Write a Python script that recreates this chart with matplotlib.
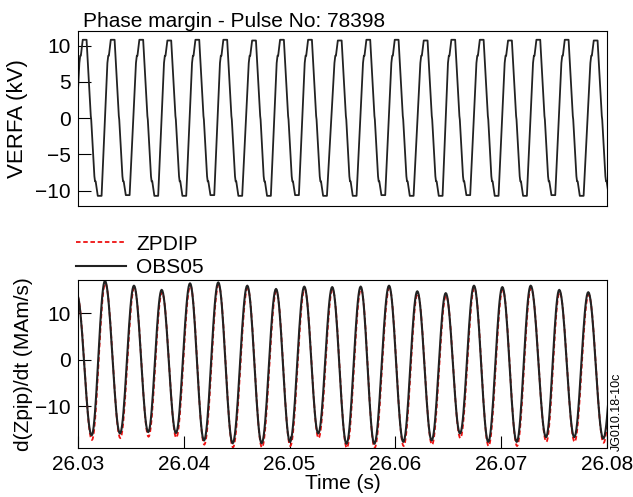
import numpy as np
import matplotlib
matplotlib.use("Agg")
import matplotlib.pyplot as plt

plt.rcParams['font.family'] = ['Liberation Sans', 'DejaVu Sans']

# top panel: VERFA (kV), peak / trough times and levels
verfa_peak_t = [26.03063, 26.03328, 26.03598, 26.03863, 26.04128, 26.04392, 26.04664,
                26.04928, 26.05193, 26.05474, 26.05744, 26.06012, 26.06286, 26.06547,
                26.06816, 26.07083, 26.07351, 26.07619, 26.07893]
verfa_peak_v = [10.8, 10.8, 10.8, 10.7, 10.8, 10.8, 10.7, 10.8, 10.8, 10.7,
                10.8, 10.8, 10.7, 10.8, 10.8, 10.7, 10.8, 10.8, 10.7]
verfa_trough_t = [26.02931, 26.03205, 26.03470, 26.03740, 26.04005, 26.04270, 26.04534,
                  26.04805, 26.05070, 26.05335, 26.05615, 26.05886, 26.06154, 26.06428,
                  26.06689, 26.06957, 26.07225, 26.07493, 26.07761, 26.08035]
verfa_trough_v = [-10.7, -10.7, -10.6, -10.7, -10.7, -10.6, -10.7, -10.7, -10.6, -10.7,
                  -10.7, -10.6, -10.7, -10.7, -10.6, -10.7, -10.7, -10.6, -10.7, -10.7]

# bottom panel: d(Zpip)/dt extrema (OBS05), ZPDIP runs a little deeper
obs_ext_t = [26.02990, 26.03129, 26.03255, 26.03397, 26.03529, 26.03664, 26.03791,
             26.03926, 26.04059, 26.04191, 26.04326, 26.04462, 26.04600, 26.04736,
             26.04872, 26.05004, 26.05139, 26.05271, 26.05403, 26.05538, 26.05672,
             26.05801, 26.05940, 26.06075, 26.06207, 26.06343, 26.06476, 26.06611,
             26.06743, 26.06878, 26.07011, 26.07147, 26.07279, 26.07424, 26.07549,
             26.07691, 26.07823, 26.07965, 26.08100]
obs_ext_v = [14.0, -16.2, 16.9, -15.8, 15.9, -15.5, 15.0, -15.7, 16.4, -17.3, 16.6,
             -17.9, 15.9, -17.9, 15.2, -17.6, 15.7, -15.8, 15.6, -18.0, 15.7, -18.0,
             15.9, -17.6, 14.7, -17.3, 14.3, -15.8, 15.9, -17.6, 15.6, -17.6, 15.9,
             -16.6, 15.0, -16.6, 14.5, -16.9, 12.0]
zpdip_ext_v = [13.6, -17.2, 16.4, -16.8, 15.4, -16.5, 14.5, -16.7, 15.9, -18.2, 16.1,
               -18.8, 15.4, -18.8, 14.7, -18.5, 15.2, -16.8, 15.1, -18.9, 15.2, -18.9,
               15.4, -18.5, 14.2, -18.2, 13.8, -16.8, 15.4, -18.5, 15.1, -18.5, 15.4,
               -17.6, 14.5, -17.6, 14.0, -17.8, 11.5]


def verfa_curve(pt, pv, tt, tv):
    # trapezoid-like wave with small kinks near the top and bottom of the edges
    w = 0.00018
    pts = []
    for i in range(len(tt)):
        pts += [(tt[i] - w, tv[i]), (tt[i] + w, tv[i])]
        if i < len(pt):
            pts += [(pt[i] - 0.00050, 7.6), (pt[i] - 0.00042, 8.6), (pt[i] - 0.00036, 8.6),
                    (pt[i] - w, pv[i]), (pt[i] + w, pv[i]),
                    (pt[i] + 0.00058, 0.3), (pt[i] + 0.00062, -0.2),
                    (tt[i + 1] - 0.00050, -8.0), (tt[i + 1] - 0.00044, -8.7),
                    (tt[i + 1] - 0.00038, -8.7)]
    pts.sort()
    return np.array([p[0] for p in pts]), np.array([p[1] for p in pts])


def smooth_through(t, v, shift=0.0):
    # half-cosine segments between consecutive extrema
    xs, ys = [], []
    for i in range(len(t) - 1):
        s = np.linspace(0, 1, 20, endpoint=False)
        xs.append(t[i] + shift + (t[i + 1] - t[i]) * s)
        ys.append(v[i] + (v[i + 1] - v[i]) * (1 - np.cos(np.pi * s)) / 2)
    return np.concatenate(xs), np.concatenate(ys)


fig = plt.figure(figsize=(6.33, 4.97), dpi=100)
ax1 = fig.add_axes([0.1232, 0.5855, 0.8357, 0.352])
ax2 = fig.add_axes([0.1232, 0.0986, 0.8357, 0.338])

x, y = verfa_curve(verfa_peak_t, verfa_peak_v, verfa_trough_t, verfa_trough_v)
ax1.plot(x, y, color='#222222', lw=1.3)
ax1.set_xlim(26.03, 26.08)
ax1.set_ylim(-12.1, 12.0)
ax1.set_yticks([10, 5, 0, -5, -10])
ax1.set_yticklabels(['10', '5', '0', '\u22125', '\u221210'])
ax1.set_xticks([])
ax1.tick_params(axis='y', direction='in', length=9, pad=5, labelsize=15)
ax1.set_ylabel('VERFA (kV)', fontsize=16, labelpad=5)
ax1.set_title('Phase margin - Pulse No: 78398', loc='left', fontsize=15, pad=3, x=0.01)

xz, yz = smooth_through(obs_ext_t, zpdip_ext_v, shift=0.00003)
xo, yo = smooth_through(obs_ext_t, obs_ext_v)
ax2.plot(xz, yz, color='#ee1111', lw=1.3, ls=(0, (2.5, 1.5)), label='ZPDIP')
ax2.plot(xo, yo, color='#222222', lw=1.5, label='OBS05')
ax2.set_xlim(26.03, 26.08)
ax2.set_ylim(-18.9, 17.1)
ax2.set_yticks([10, 0, -10])
ax2.set_yticklabels(['10', '0', '\u221210'])
ax2.set_xticks([26.03, 26.04, 26.05, 26.06, 26.07, 26.08])
ax2.set_xticklabels(['26.03', '26.04', '26.05', '26.06', '26.07', '26.08'])
ax2.tick_params(direction='in', length=9, pad=5, labelsize=15)
ax2.set_ylabel('d(Zpip)/dt (MAm/s)', fontsize=15, labelpad=2)
ax2.set_xlabel('Time (s)', fontsize=15, labelpad=0)
ax2.legend(loc='lower left', bbox_to_anchor=(-0.01, 1.0), frameon=False, fontsize=15,
           handlelength=2.4, handletextpad=0.5, labelspacing=0.2, borderpad=0.05,
           borderaxespad=0.1)

fig.text(0.975, 0.171, 'JG010.18-10c', rotation=90, fontsize=9, ha='center', va='center')

fig.savefig('out.png', dpi=100)
